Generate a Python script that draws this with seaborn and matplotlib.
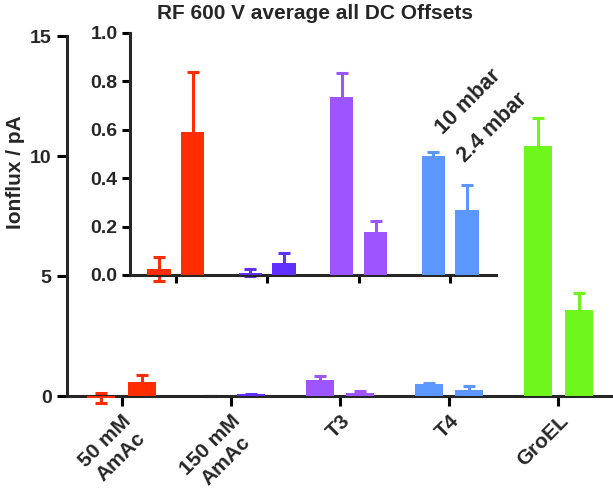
import numpy as np
import pandas as pd
import matplotlib
matplotlib.use("Agg")
import matplotlib.pyplot as plt
import seaborn as sns

# ------------------------------
# DATA
# ------------------------------
samples = ["50 mM\nAmAc", "150 mM\nAmAc", "T3", "T4", "GroEL"]
pressures = ["10 mbar", "2.4 mbar"]
colors = ["#ff2d00", "#5e2fff", "#9c55ff", "#5b97ff", "#6ff61c"]

# main plot, Ionflux / pA
main_10 = [-0.09, 0.005, 0.65, 0.50, 10.4]
main_10_err = [0.21, 0.005, 0.20, 0.03, 1.2]
main_24 = [0.58, 0.08, 0.11, 0.25, 3.6]
main_24_err = [0.29, 0.02, 0.10, 0.15, 0.7]

# inset (zoom of the first four samples)
inset_10 = [0.025, 0.01, 0.735, 0.49]
inset_10_err = [0.05, 0.015, 0.10, 0.018]
inset_24 = [0.59, 0.05, 0.178, 0.27]
inset_24_err = [0.25, 0.04, 0.046, 0.10]

main_yticks = [0, 5, 10, 15]
inset_yticks = [0.0, 0.2, 0.4, 0.6, 0.8, 1.0]

sns.set_style("ticks")
plt.rcParams["font.family"] = ["Liberation Sans", "DejaVu Sans"]
plt.rcParams["font.weight"] = "bold"

LW = 2.2


def bar_panel(ax, names, v10, e10, v24, e24, cols):
    df = pd.DataFrame({
        "sample": list(names) * 2,
        "pressure": [pressures[0]] * len(names) + [pressures[1]] * len(names),
        "value": list(v10) + list(v24),
    })
    sns.barplot(data=df, x="sample", y="value", hue="pressure", order=names,
                hue_order=pressures, errorbar=None, width=0.74, gap=0.31,
                saturation=1, legend=False, ax=ax, zorder=3)
    for container, errs in zip(ax.containers, [e10, e24]):
        for bar, err, c in zip(container, errs, cols):
            bar.set_facecolor(c)
            bar.set_edgecolor("none")
            bar.set_clip_on(False)
            x = bar.get_x() + bar.get_width() / 2
            y = bar.get_y() + bar.get_height()
            ax.errorbar(x, y, yerr=err, color=c, elinewidth=LW, capsize=4.3,
                        capthick=LW, zorder=2, clip_on=False)


fig = plt.figure(figsize=(6.13, 4.96), dpi=100)

# ------------------------------
# MAIN AXES
# ------------------------------
ax = fig.add_axes([0.1093, 0.2016, 0.8907, 0.7258])
bar_panel(ax, samples, main_10, main_10_err, main_24, main_24_err, colors)
ax.set_xlim(-0.5, 4.5)
ax.set_ylim(0, 15)
ax.set_yticks(main_yticks)
ax.set_yticklabels([str(t) for t in main_yticks], fontsize=14, fontweight="bold")
ax.set_xticks(range(len(samples)))
ax.set_xticklabels(samples, rotation=45, ha="right", rotation_mode="anchor",
                   fontsize=15, fontweight="bold", multialignment="center")
ax.set_xlabel("")
ax.set_ylabel("Ionflux / pA", fontsize=15, fontweight="bold")
ax.yaxis.set_label_coords(-0.077, 0.622)
sns.despine(ax=ax)
for s in ["left", "bottom"]:
    ax.spines[s].set_linewidth(LW)
ax.tick_params(axis="both", length=7, width=LW, pad=4, color="black")
ax.set_facecolor("none")

# ------------------------------
# INSET AXES
# ------------------------------
ins = fig.add_axes([0.2121, 0.4456, 0.5970, 0.4879])
bar_panel(ins, samples[:4], inset_10, inset_10_err, inset_24, inset_24_err, colors[:4])
ins.set_xlim(-0.5, 3.5)
ins.set_ylim(0, 1.0)
ins.set_yticks(inset_yticks)
ins.set_yticklabels([f"{t:.1f}" for t in inset_yticks], fontsize=14, fontweight="bold")
ins.set_xticks(range(4))
ins.set_xticklabels([])
ins.set_xlabel("")
ins.set_ylabel("")
sns.despine(ax=ins)
for s in ["left", "bottom"]:
    ins.spines[s].set_linewidth(LW)
ins.tick_params(axis="both", length=6, width=LW, pad=3, color="black")
ins.set_facecolor("none")

# legend labels written diagonally above the T4 bars
fig.text(0.7226, 0.7278, pressures[0], rotation=45, rotation_mode="anchor",
         ha="left", va="baseline", fontsize=15.5, fontweight="bold")
fig.text(0.7585, 0.6714, pressures[1], rotation=45, rotation_mode="anchor",
         ha="left", va="baseline", fontsize=15.5, fontweight="bold")

fig.text(0.514, 0.961, "RF 600 V average all DC Offsets", ha="center",
         va="baseline", fontsize=15, fontweight="bold")

fig.savefig("out.png", dpi=100)
